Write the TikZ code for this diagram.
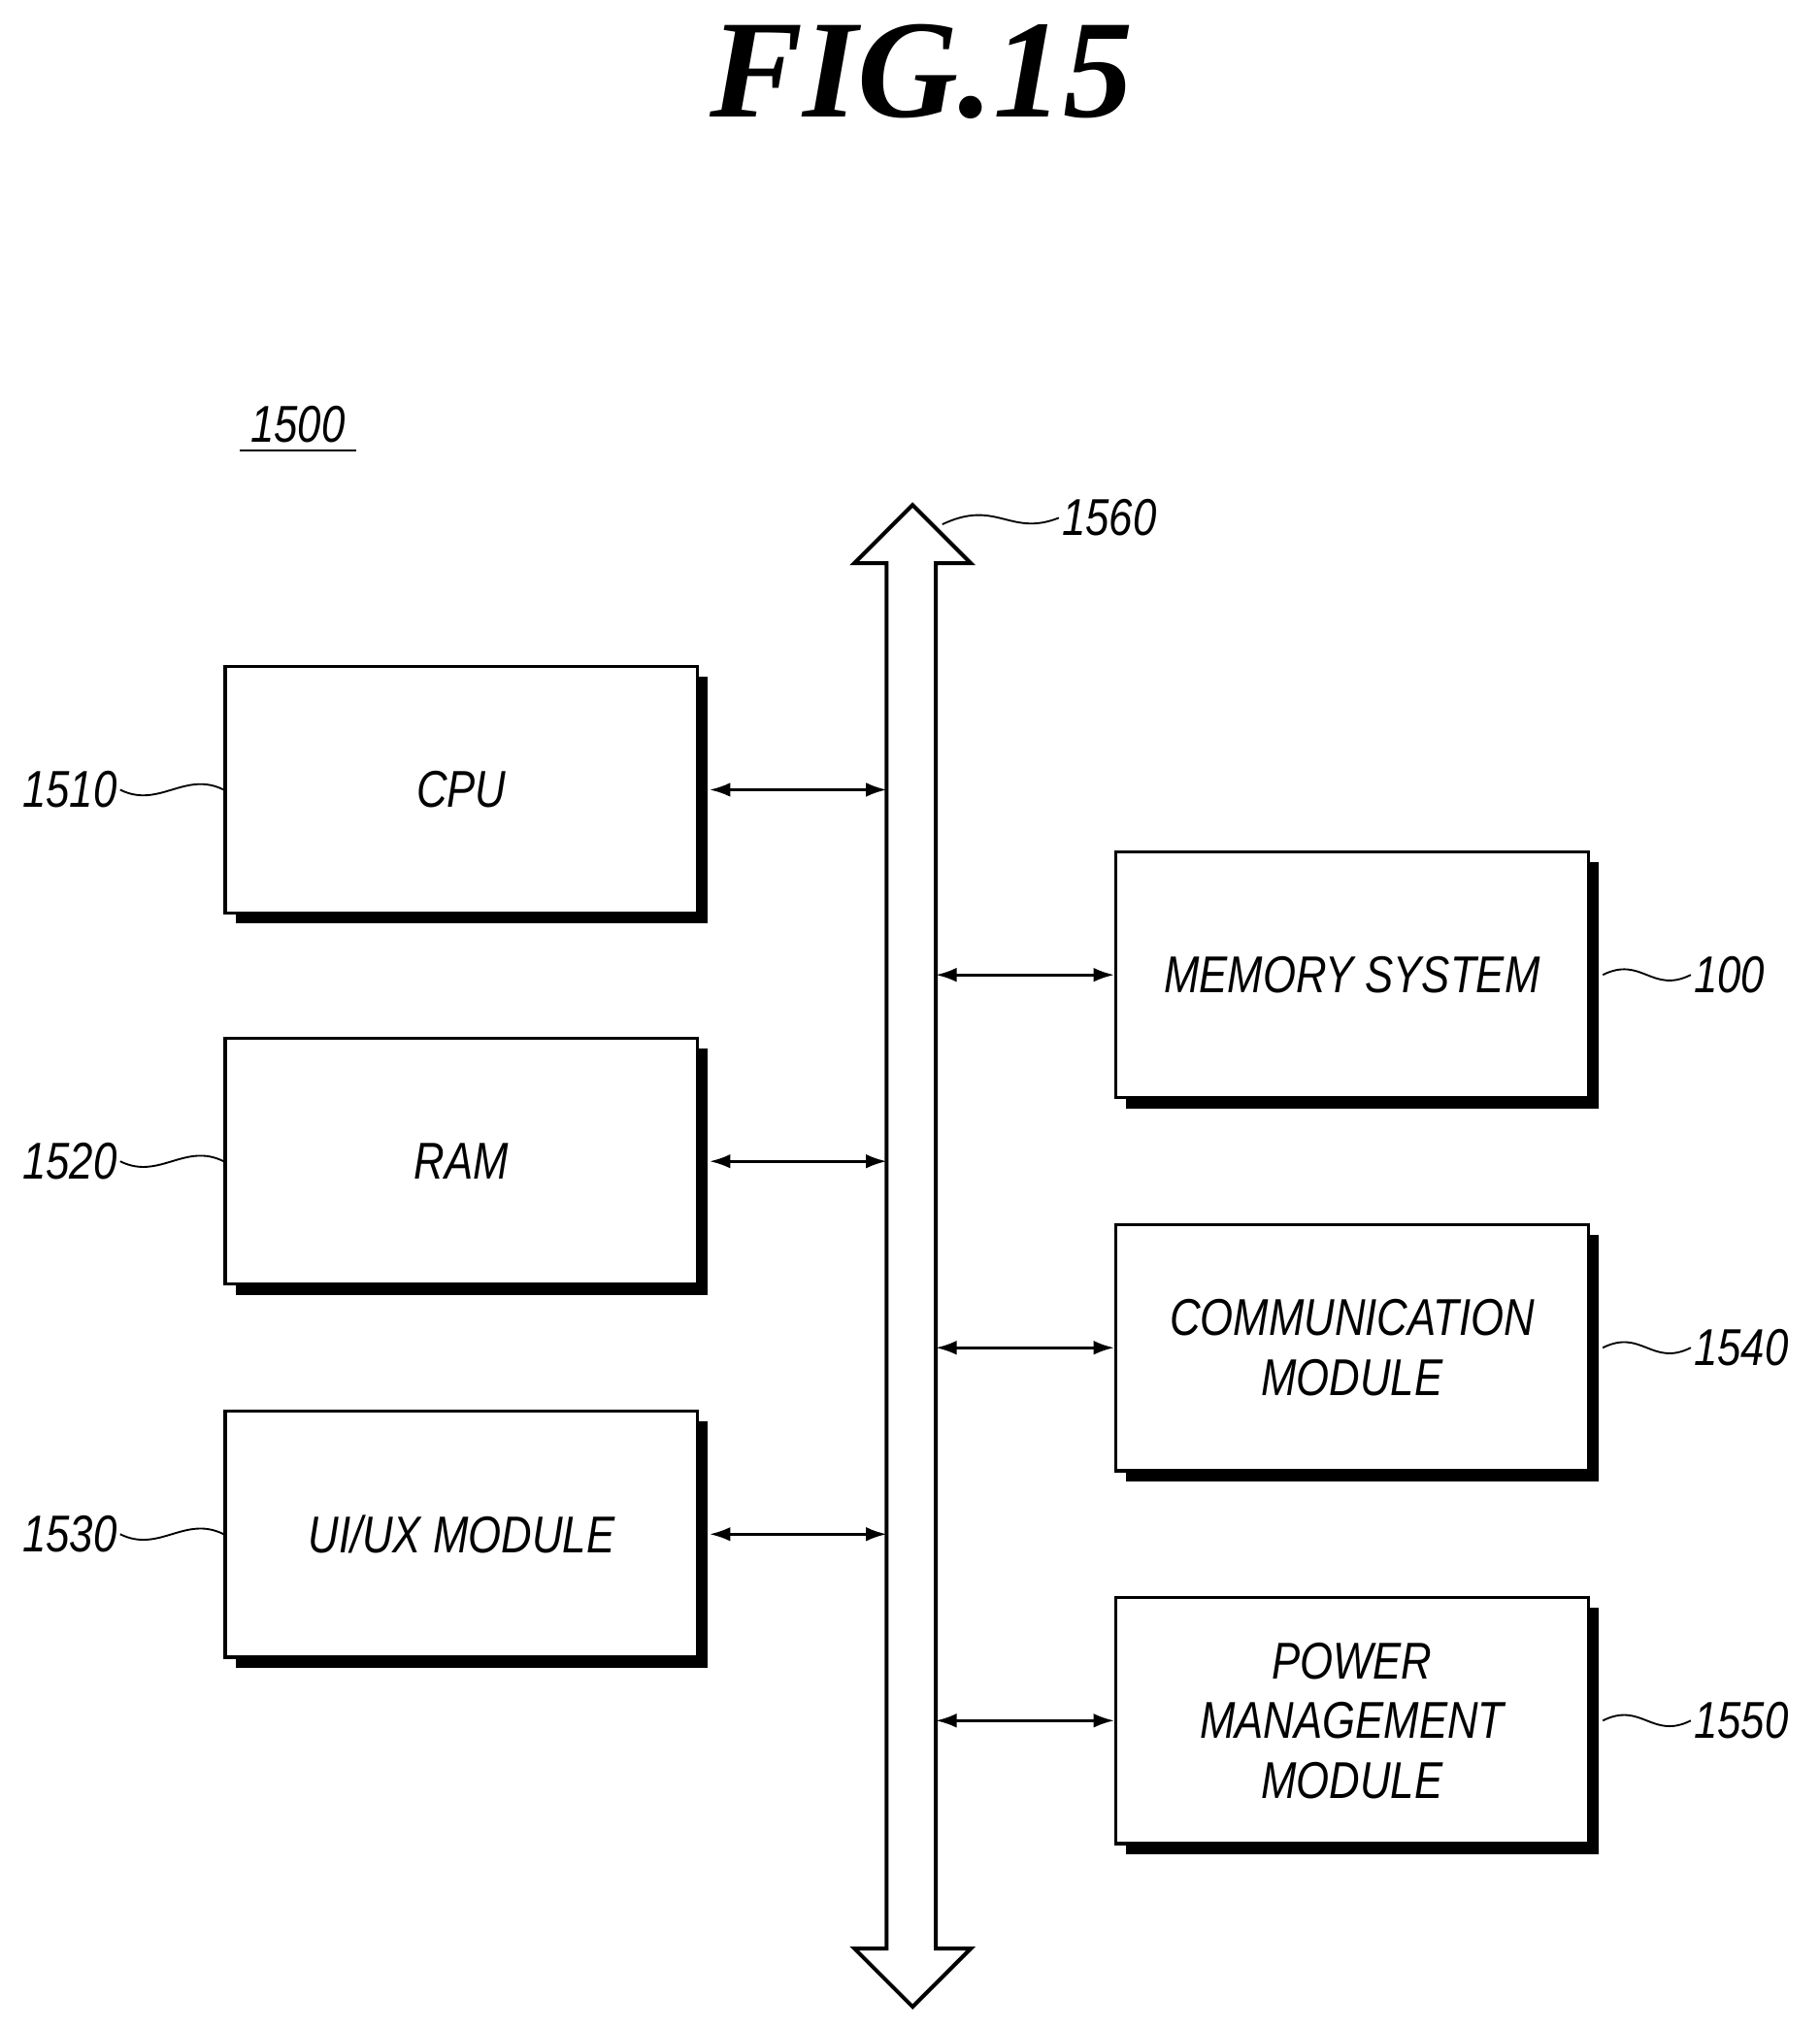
\documentclass[tikz,border=0pt]{standalone}
\usepackage{fontspec}
\setmainfont{Liberation Serif}
\newfontfamily\lab[FakeStretch=0.82]{Liberation Sans}
\usetikzlibrary{arrows.meta,calc}
\begin{document}
\begin{tikzpicture}[x=0.5pt,y=-0.5pt,
  box/.style={draw,line width=1.2pt,fill=white,minimum width=182.5pt,minimum height=95pt,align=center,inner sep=0pt,
    font=\lab\itshape\fontsize{20}{23}\selectfont},
  lbl/.style={font=\lab\itshape\fontsize{20}{23}\selectfont,inner sep=1pt},
  con/.style={line width=1pt,{Latex[length=8pt,width=5.5pt]}-{Latex[length=8pt,width=5.5pt]}},
  lead/.style={line width=0.7pt}]
\useasboundingbox (0,0) rectangle (1406,1568);
\node[font=\bfseries\itshape\fontsize{54}{60}\selectfont] (title) at (712,55) {FIG.15};
\node[lbl] (n1500) at (230,328) {1500};
\draw[line width=1pt] (185,348) -- (275,348);
% bus
\draw[line width=1.5pt,fill=white] (685,435) -- (660,435) -- (705,390) -- (750,435) -- (723,435) -- (723,1505) -- (750,1505) -- (705,1550) -- (660,1505) -- (685,1505) -- cycle;
\coordinate (bl) at (685,0); \coordinate (br) at (723,0);
\node[lbl,anchor=west] (n1560) at (818,400) {1560};
\coordinate (b1560) at (728,405);
\draw[lead] (b1560) .. controls (770,385) and (780,415) .. (n1560.west);
% boxes
\newcommand\shbox[4]{%
  \fill (#2+8,#3+8) rectangle (#2+373,#3+198);
  \node[box] (#1) at (#2+182.5,#3+95) {#4};}
\shbox{cpu}{174}{515}{CPU}
\shbox{ram}{174}{802}{RAM}
\shbox{ui}{174}{1090}{UI/UX MODULE}
\shbox{mem}{862}{658}{MEMORY SYSTEM}
\shbox{com}{862}{946}{COMMUNICATION\\MODULE}
\shbox{pow}{862}{1234}{POWER\\MANAGEMENT\\MODULE}
% connectors
\foreach \n in {cpu,ram,ui}{
  \coordinate (t) at (bl |- \n.east);
  \draw[con] ($(\n.east)+(8,0)$) -- (t);}
\foreach \n in {mem,com,pow}{
  \coordinate (t) at (br |- \n.west);
  \draw[con] (t) -- (\n.west);}
% labels
\foreach \n/\t in {cpu/1510,ram/1520,ui/1530}{
  \node[lbl,anchor=east] (L\t) at ($(\n.west)+(-80,0)$) {\t};
  \draw[lead] (L\t.east) .. controls ($(L\t.east)+(30,15)$) and ($(\n.west)+(-30,-15)$) .. (\n.west);}
\foreach \n/\t in {mem/100,com/1540,pow/1550}{
  \node[lbl,anchor=west] (L\t) at ($(\n.east)+(78,0)$) {\t};
  \draw[lead] ($(\n.east)+(10,0)$) .. controls ($(\n.east)+(40,-15)$) and ($(L\t.west)+(-30,15)$) .. (L\t.west);}
\end{tikzpicture}
\end{document}
